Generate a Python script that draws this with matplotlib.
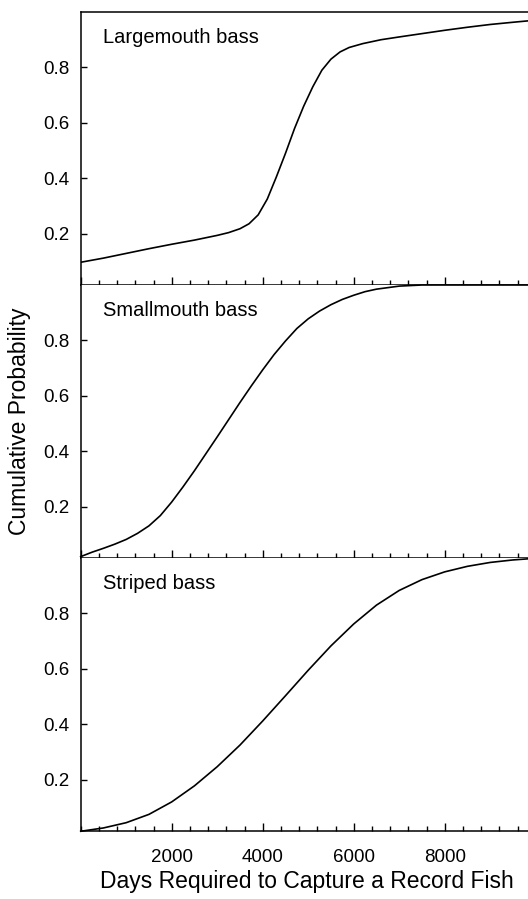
import matplotlib
matplotlib.use('Agg')
import matplotlib.pyplot as plt
from matplotlib.ticker import MultipleLocator

plt.rcParams['font.family'] = ['Liberation Sans', 'DejaVu Sans']

# values (days, cumulative probability)
largemouth_x = [0, 500, 1000, 1500, 2000, 2500, 3000, 3250, 3500, 3700, 3900, 4100, 4300,
                4500, 4700, 4900, 5100, 5300, 5500, 5700, 5900, 6200, 6600, 7000, 7500,
                8000, 8500, 9000, 9500, 9830]
largemouth_y = [0.097, 0.112, 0.129, 0.146, 0.162, 0.177, 0.194, 0.204, 0.218, 0.236, 0.268,
                0.325, 0.405, 0.490, 0.580, 0.660, 0.730, 0.790, 0.830, 0.856, 0.872, 0.886,
                0.900, 0.910, 0.922, 0.934, 0.945, 0.955, 0.963, 0.968]

smallmouth_x = [0, 250, 500, 750, 1000, 1250, 1500, 1750, 2000, 2250, 2500, 2750, 3000,
                3250, 3500, 3750, 4000, 4250, 4500, 4750, 5000, 5250, 5500, 5750, 6000,
                6250, 6500, 7000, 7500, 9830]
smallmouth_y = [0.020, 0.036, 0.050, 0.065, 0.082, 0.104, 0.131, 0.168, 0.217, 0.272, 0.330,
                0.391, 0.452, 0.514, 0.576, 0.636, 0.694, 0.749, 0.798, 0.843, 0.878, 0.906,
                0.929, 0.948, 0.963, 0.976, 0.985, 0.996, 1.0, 1.0]

striped_x = [0, 500, 1000, 1500, 2000, 2500, 3000, 3500, 4000, 4500, 5000, 5500, 6000,
             6500, 7000, 7500, 8000, 8500, 9000, 9500, 9830]
striped_y = [0.014, 0.026, 0.045, 0.075, 0.120, 0.178, 0.247, 0.325, 0.412, 0.503, 0.595,
             0.683, 0.762, 0.830, 0.883, 0.922, 0.950, 0.970, 0.984, 0.993, 0.997]

panel_names = ['Largemouth bass', 'Smallmouth bass', 'Striped bass']
yticks = [0.2, 0.4, 0.6, 0.8]

fig = plt.figure(figsize=(5.28, 8.99), dpi=100)
left = 80.7 / 528
h = 273 / 899
bottoms = [1 - 285 / 899, 1 - 558 / 899, 1 - 831 / 899]
series = [(largemouth_x, largemouth_y), (smallmouth_x, smallmouth_y), (striped_x, striped_y)]

for i, (xs, ys) in enumerate(series):
    ax = fig.add_axes([left, bottoms[i], 1 - left, h])
    ax.plot(xs, ys, color='black', lw=1.2, clip_on=(i == 0))
    ax.set_xlim(0, 9830)
    ax.set_ylim(0.015, 1.0)
    ax.set_yticks(yticks)
    ax.set_yticklabels(['0.2', '0.4', '0.6', '0.8'])
    ax.xaxis.set_major_locator(MultipleLocator(2000))
    ax.xaxis.set_minor_locator(MultipleLocator(400))
    ax.spines['right'].set_visible(False)
    for s in ['left', 'bottom', 'top']:
        ax.spines[s].set_linewidth(1.1)
    if i > 0:
        ax.spines['top'].set_visible(False)
    ax.tick_params(axis='y', direction='in', length=4.5, width=1.0, labelsize=13.5, pad=8)
    ax.tick_params(axis='x', which='major', direction='in', length=6, width=1.0, labelsize=13.5, pad=13)
    ax.tick_params(axis='x', which='minor', direction='in', length=3.5, width=1.0)
    if i < 2:
        ax.tick_params(axis='x', labelbottom=False)
    else:
        ax.set_xticks([2000, 4000, 6000, 8000])
        ax.xaxis.set_minor_locator(MultipleLocator(400))
    ax.text(0.05, 0.886, panel_names[i], transform=ax.transAxes, fontsize=14.5, va='baseline', ha='left')

fig.text(0.582, 11 / 899, 'Days Required to Capture a Record Fish', fontsize=16.5, ha='center', va='baseline')
fig.text(20 / 528, 0.531, 'Cumulative Probability', fontsize=16.5, rotation=90, ha='center', va='center')

fig.savefig('out.png', dpi=100)
